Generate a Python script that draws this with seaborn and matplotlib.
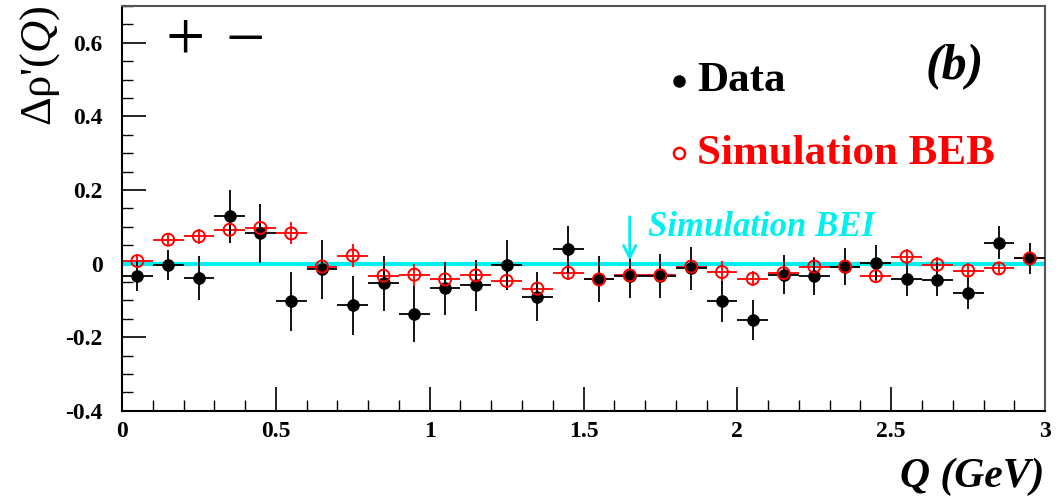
import numpy as np
import pandas as pd
import seaborn as sns
import matplotlib.pyplot as plt
from matplotlib.ticker import MultipleLocator

q = [0.05, 0.15, 0.25, 0.35, 0.45, 0.55, 0.65, 0.75, 0.85, 0.95,
     1.05, 1.15, 1.25, 1.35, 1.45, 1.55, 1.65, 1.75, 1.85, 1.95,
     2.05, 2.15, 2.25, 2.35, 2.45, 2.55, 2.65, 2.75, 2.85, 2.95]
q_err = 0.05

data_y = [-0.034, -0.004, -0.038, 0.129, 0.083, -0.102, -0.015, -0.113, -0.054, -0.136,
          -0.067, -0.059, -0.005, -0.090, 0.039, -0.041, -0.034, -0.034, -0.013, -0.102,
          -0.154, -0.030, -0.035, -0.008, 0.003, -0.041, -0.044, -0.081, 0.057, 0.014]
data_err = [0.04, 0.04, 0.06, 0.072, 0.08, 0.08, 0.08, 0.08, 0.076, 0.076,
            0.072, 0.07, 0.068, 0.066, 0.064, 0.062, 0.06, 0.06, 0.058, 0.056,
            0.054, 0.053, 0.05, 0.05, 0.048, 0.046, 0.045, 0.043, 0.045, 0.043]

beb_y = [0.007, 0.065, 0.074, 0.092, 0.097, 0.082, -0.008, 0.022, -0.033, -0.030,
         -0.043, -0.032, -0.047, -0.068, -0.025, -0.043, -0.032, -0.032, -0.008, -0.023,
         -0.041, -0.026, -0.008, -0.008, -0.034, 0.019, -0.003, -0.019, -0.013, 0.014]
beb_err = [0.015, 0.015, 0.02, 0.025, 0.02, 0.03, 0.015, 0.03, 0.015, 0.03,
           0.02, 0.02, 0.025, 0.02, 0.02, 0.015, 0.015, 0.015, 0.015, 0.03,
           0.02, 0.015, 0.025, 0.015, 0.02, 0.02, 0.02, 0.02, 0.015, 0.015]

sns.set_style("ticks")
plt.rcParams['font.family'] = ['Liberation Serif', 'DejaVu Serif']
plt.rcParams['mathtext.fontset'] = 'custom'
plt.rcParams['mathtext.rm'] = 'Liberation Serif'
plt.rcParams['mathtext.it'] = 'Liberation Serif:italic'
plt.rcParams['mathtext.bf'] = 'Liberation Serif:bold'
plt.rcParams['text.color'] = 'black'
plt.rcParams['xtick.color'] = 'black'
plt.rcParams['ytick.color'] = 'black'
plt.rcParams['xtick.labelcolor'] = 'black'
plt.rcParams['ytick.labelcolor'] = 'black'

CYAN = "#00f0f0"

fig = plt.figure(figsize=(10.57, 5.01), dpi=100)
ax = fig.add_axes([0.1154, 0.18, 0.8733, 0.808])

df = pd.DataFrame({"Q": q, "data": data_y, "beb": beb_y})

# BEI simulation line at zero
ax.axhline(0, color=CYAN, lw=3, zorder=1)

ax.errorbar(q, beb_y, xerr=q_err, yerr=beb_err, fmt="none", ecolor="red", elinewidth=1.3, zorder=2)
ax.errorbar(q, data_y, xerr=q_err, yerr=data_err, fmt="none", ecolor="black", elinewidth=1.3, zorder=3)
sns.scatterplot(data=df, x="Q", y="data", ax=ax, color="black", s=70, edgecolor="black", zorder=4, legend=False)
sns.scatterplot(data=df, x="Q", y="beb", ax=ax, facecolor="none", edgecolor="red", linewidth=1.4,
                s=75, zorder=5, legend=False)

ax.set_xlim(0, 3)
ax.set_ylim(-0.4, 0.7)
ax.xaxis.set_minor_locator(MultipleLocator(0.1))
ax.yaxis.set_minor_locator(MultipleLocator(0.05))
ax.set_xticks([0, 0.5, 1, 1.5, 2, 2.5, 3])
ax.set_xticklabels(["0", "0.5", "1", "1.5", "2", "2.5", "3"])
ax.set_yticks([-0.4, -0.2, 0, 0.2, 0.4, 0.6])
ax.set_yticklabels(["-0.4", "-0.2", "0", "0.2", "0.4", "0.6"])
ax.tick_params(axis="both", which="major", direction="in", length=17, width=1.2, labelsize=17)
ax.tick_params(axis="y", which="major", pad=14)
ax.tick_params(axis="x", which="major", pad=7)
ax.tick_params(axis="both", which="minor", direction="in", length=8, width=1.0)
for lab in ax.get_xticklabels() + ax.get_yticklabels():
    lab.set_fontweight("bold")
for s in ax.spines.values():
    s.set_linewidth(1.5)
    s.set_visible(True)
ax.spines["left"].set_color("black")
ax.spines["bottom"].set_color("black")
ax.spines["top"].set_color("#555555")
ax.spines["right"].set_color("#555555")
ax.set_xlabel("")
ax.set_ylabel("")

fig.text(0.988, 0.01, "Q (GeV)", ha="right", va="bottom", fontsize=30,
         fontweight="bold", style="italic")
fig.text(0.038, 0.99, "Δρ'($\\mathit{Q}$)", rotation=90, ha="center", va="top", fontsize=32)

ax.text(0.205, 0.6, "+", fontsize=50, ha="center", va="center")
ax.text(0.40, 0.6, "−", fontsize=50, ha="center", va="center")

ax.plot([1.81], [0.497], "o", color="black", ms=8)
ax.text(1.87, 0.495, "Data", fontsize=31, fontweight="bold", va="center")
ax.plot([1.81], [0.30], "o", mfc="white", mec="red", mew=1.8, ms=8)
ax.text(1.87, 0.298, "Simulation BEB", fontsize=31, fontweight="bold", color="red", va="center")
ax.text(2.61, 0.535, "(b)", fontsize=36, fontweight="bold", style="italic", va="center")

ax.annotate("", xy=(1.65, 0.0), xytext=(1.65, 0.135),
            arrowprops=dict(arrowstyle="->", color=CYAN, lw=2, mutation_scale=22))
ax.text(1.71, 0.098, "Simulation BEI", fontsize=25, fontweight="bold", style="italic",
        color=CYAN, va="center")

fig.savefig("out.png", dpi=100)
